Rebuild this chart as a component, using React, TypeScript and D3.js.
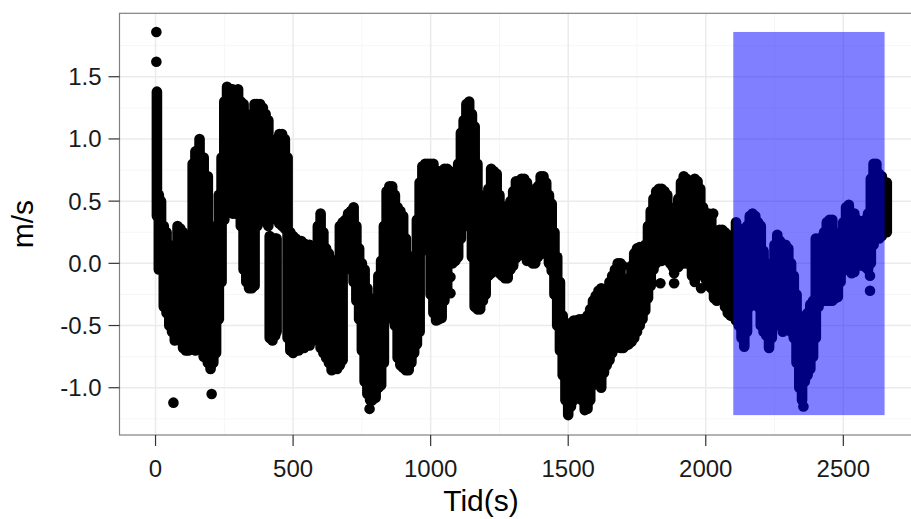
import React from "react";
import * as d3 from "d3";

// Velocity readings (m/s) vs time (s). Each entry: [time, highest value, lowest value] of the dense dot cloud in that slice.
const cloud: [number, number, number][] = [
  [5, 1.38, 0.38], [12, 0.55, -0.05], [20, 0.5, 0.05], [30, 0.3, -0.35], [40, 0.25, -0.4],
  [50, 0.15, -0.5], [60, 0.08, -0.55], [70, 0.05, -0.62], [80, 0.3, -0.6], [90, 0.28, -0.62],
  [100, 0.25, -0.68], [110, 0.2, -0.7], [120, 0.12, -0.7], [135, 0.8, 0.12], [135, 0.02, -0.68], [145, 0.9, -0.7],
  [160, 1.0, -0.55], [175, 0.85, -0.75], [190, 0.7, -0.8], [200, 0.0, -0.85], [210, 0.05, -0.8],
  [220, 0.3, -0.72], [230, 0.55, -0.45], [240, 0.85, -0.15], [250, 1.3, 0.35], [260, 1.42, 0.42],
  [270, 1.4, 0.45], [280, 1.4, 0.4], [290, 1.35, 0.4], [300, 1.4, 0.45], [310, 1.3, 0.3],
  [320, 1.28, -0.05], [330, 1.2, -0.15], [340, 1.12, 0.75], [340, 0.62, -0.2], [350, 1.1, -0.2], [360, 1.28, -0.18],
  [370, 1.28, 0.3], [380, 1.28, 0.45], [390, 1.25, 0.45], [400, 1.2, 0.33], [410, 1.15, 0.3],
  [415, 0.22, -0.6], [425, 0.2, -0.62], [435, 0.2, -0.58], [440, 1.0, 0.35], [440, 0.2, -0.55],
  [450, 1.04, 0.32], [460, 1.04, 0.3], [470, 1.0, 0.28], [480, 0.85, -0.6], [490, 0.25, -0.7],
  [500, 0.22, -0.72], [510, 0.2, -0.7], [520, 0.12, -0.7], [530, 0.18, -0.68], [540, 0.16, -0.68],
  [550, 0.15, -0.66], [560, 0.15, -0.66], [570, 0.12, -0.6], [580, 0.1, -0.56], [590, 0.3, -0.62],
  [600, 0.4, -0.68], [610, 0.25, -0.72], [620, 0.12, -0.76], [630, 0.08, -0.8], [640, 0.03, -0.86],
  [650, 0.0, -0.85], [660, 0.0, -0.85], [670, 0.3, -0.82], [680, 0.33, -0.78], [690, 0.35, -0.02],
  [700, 0.4, -0.02], [710, 0.42, -0.05], [720, 0.45, -0.15], [730, 0.3, -0.3], [740, 0.12, -0.45],
  [750, 0.0, -0.7], [760, -0.05, -0.95], [770, -0.2, -1.05], [780, -0.28, -1.1], [790, -0.3, -1.0],
  [800, -0.3, -1.08], [810, -0.1, -1.0], [820, 0.02, -0.98], [830, 0.3, -0.8], [840, 0.58, -0.45],
  [850, 0.62, -0.1], [860, 0.62, -0.03], [870, 0.55, -0.5], [880, 0.45, -0.76], [890, 0.42, -0.82],
  [900, 0.38, -0.84], [910, 0.2, -0.86], [920, 0.06, -0.86], [930, 0.02, -0.8], [940, 0.0, -0.72],
  [950, 0.35, -0.65], [960, 0.65, -0.55], [970, 0.78, 0.1], [980, 0.8, 0.13], [990, 0.8, 0.13],
  [1000, 0.8, -0.25], [1010, 0.8, -0.4], [1020, 0.74, -0.46], [1030, 0.74, -0.45], [1040, 0.72, -0.44],
  [1050, 0.76, 0.34], [1050, 0.24, -0.3], [1060, 0.76, 0.36], [1060, 0.22, -0.22], [1070, 0.74, 0.0], [1080, 0.7, 0.0], [1090, 0.68, 0.02],
  [1100, 0.8, 0.05], [1110, 1.05, 0.2], [1120, 1.15, 0.35], [1130, 1.28, 0.3], [1140, 1.3, 0.3],
  [1150, 1.2, 0.05], [1160, 1.1, -0.35], [1170, 0.8, -0.37], [1180, 0.55, -0.37], [1190, 0.4, -0.3],
  [1200, 0.3, -0.25], [1210, 0.6, -0.1], [1220, 0.76, -0.08], [1230, 0.74, -0.05], [1240, 0.72, 0.0],
  [1250, 0.55, -0.08], [1260, 0.46, -0.1], [1270, 0.42, -0.12], [1280, 0.4, -0.12], [1290, 0.5, -0.05],
  [1300, 0.58, -0.02], [1310, 0.66, 0.04], [1320, 0.66, 0.06], [1330, 0.68, 0.1], [1340, 0.68, 0.08],
  [1350, 0.65, 0.02], [1360, 0.6, 0.02], [1370, 0.56, 0.0], [1380, 0.55, 0.0], [1390, 0.62, 0.05],
  [1400, 0.7, 0.08], [1410, 0.7, 0.08], [1420, 0.65, 0.08], [1430, 0.55, 0.0], [1440, 0.48, -0.06],
  [1450, 0.25, -0.25], [1460, 0.05, -0.5], [1470, -0.15, -0.7], [1480, -0.42, -0.9], [1490, -0.48, -1.1],
  [1500, -0.5, -1.22], [1510, -0.48, -1.15], [1520, -0.46, -1.1], [1530, -0.46, -1.05], [1540, -0.45, -1.03],
  [1550, -0.45, -1.1], [1560, -0.45, -1.18], [1570, -0.42, -1.17], [1580, -0.37, -1.1], [1590, -0.3, -0.98],
  [1600, -0.26, -0.95], [1610, -0.22, -0.95], [1620, -0.2, -1.0], [1630, -0.21, -0.88], [1640, -0.22, -0.82],
  [1650, -0.15, -0.78], [1660, -0.1, -0.72], [1670, -0.05, -0.68], [1680, 0.0, -0.65], [1690, 0.0, -0.68],
  [1700, -0.17, -0.68], [1710, -0.14, -0.66], [1720, -0.12, -0.65], [1730, -0.02, -0.63], [1740, 0.08, -0.6],
  [1750, 0.12, -0.55], [1760, 0.13, -0.5], [1770, 0.13, -0.45], [1780, 0.15, -0.38], [1790, 0.3, -0.28],
  [1800, 0.42, -0.18], [1810, 0.52, -0.05], [1820, 0.58, 0.0], [1830, 0.6, 0.02], [1840, 0.6, 0.02],
  [1850, 0.58, 0.05], [1860, 0.55, 0.05], [1870, 0.45, 0.0], [1880, 0.35, -0.03], [1890, 0.45, -0.03],
  [1900, 0.52, -0.03], [1910, 0.65, 0.0], [1920, 0.7, 0.0], [1930, 0.68, 0.0], [1940, 0.62, 0.0],
  [1950, 0.66, -0.1], [1960, 0.68, -0.15], [1970, 0.66, -0.05], [1980, 0.6, 0.0], [1990, 0.45, -0.1],
  [2000, 0.35, -0.13], [2010, 0.4, -0.18], [2020, 0.38, -0.2], [2030, 0.25, -0.28], [2040, 0.26, -0.3],
  [2050, 0.27, -0.28], [2060, 0.27, -0.27], [2070, 0.25, -0.35], [2080, 0.23, -0.4], [2090, 0.22, -0.42],
  [2100, 0.15, -0.43], [2110, 0.33, -0.46], [2120, 0.28, -0.5], [2130, 0.15, -0.6], [2140, 0.1, -0.67],
  [2150, 0.3, -0.55], [2160, 0.38, -0.35], [2170, 0.4, -0.15], [2180, 0.38, -0.12], [2190, 0.33, -0.35],
  [2200, 0.3, -0.5], [2210, 0.1, -0.55], [2220, 0.0, -0.58], [2230, -0.04, -0.68], [2240, -0.06, -0.6],
  [2250, 0.15, -0.5], [2260, 0.23, -0.46], [2270, 0.18, -0.5], [2280, 0.15, -0.55], [2290, 0.15, -0.52],
  [2300, 0.12, -0.5], [2310, 0.0, -0.55], [2320, -0.1, -0.6], [2330, -0.25, -0.8], [2340, -0.42, -1.0],
  [2350, -0.55, -1.1], [2360, -0.55, -0.95], [2370, -0.4, -0.9], [2380, -0.33, -0.85], [2390, -0.3, -0.75],
  [2400, 0.2, -0.6], [2410, 0.2, -0.35], [2420, 0.2, -0.3], [2430, 0.25, -0.3], [2440, 0.33, -0.3],
  [2450, 0.35, -0.3], [2460, 0.35, -0.3], [2470, 0.25, -0.28], [2480, 0.2, -0.27], [2490, 0.25, -0.15],
  [2500, 0.33, -0.06], [2510, 0.45, -0.05], [2520, 0.47, -0.05], [2530, 0.4, -0.08], [2540, 0.4, -0.07],
  [2550, 0.35, -0.02], [2560, 0.33, 0.0], [2570, 0.34, -0.02], [2580, 0.35, -0.03], [2590, 0.4, -0.05],
  [2600, 0.68, 0.0], [2610, 0.8, 0.15], [2620, 0.8, 0.2], [2630, 0.72, 0.2], [2640, 0.7, 0.22],
  [2658, 0.65, 0.25],
];

// Isolated points: [time, value]
const singles: [number, number][] = [
  [3, 1.86], [3, 1.62], [65, -1.12], [204, -1.05], [778, -1.17], [788, -1.1],
  [1072, -0.11], [1072, -0.24], [1698, -0.02], [1835, -0.16], [1885, -0.08], [1885, -0.16],
  [1983, -0.2], [2027, 0.4], [2355, -1.15], [2597, -0.1], [2597, -0.22],
];

const highlight = { from: 2100, to: 2650 };
const xTicks = [0, 500, 1000, 1500, 2000, 2500];
const yTicks = [-1.0, -0.5, 0.0, 0.5, 1.0, 1.5];
const xMinor = [250, 750, 1250, 1750, 2250, 2750];
const yMinor = [-1.25, -0.75, -0.25, 0.25, 0.75, 1.25, 1.75];
const xTitle = "Tid(s)";
const yTitle = "m/s";

const W = 911;
const H = 519;
const R = 5.3;

export default function App() {
  const x = d3.scaleLinear().domain([-131, 2782]).range([119.5, 920.9]);
  const y = d3.scaleLinear().domain([-1.38, 2.01]).range([435, 13.3]);
  const [x0, x1] = x.range();
  const [yb, yt] = y.range();

  const allVals = [
    ...cloud.flatMap((c) => [c[1], c[2]]),
    ...singles.map((s) => s[1]),
  ];
  const vMin = d3.min(allVals) as number;
  const vMax = d3.max(allVals) as number;

  const font = "'Liberation Sans', Arial, Helvetica, sans-serif";
  const fmt = (v: number) => v.toFixed(1);

  return (
    <svg
      width={W}
      height={H}
      style={{ position: "absolute", left: 0, top: 0, background: "#fff" }}
    >
      <defs>
        <clipPath id="panel">
          <rect x={x0} y={yt} width={x1 - x0} height={yb - yt} />
        </clipPath>
      </defs>
      <rect x={x0} y={yt} width={x1 - x0} height={yb - yt} fill="#fff" />
      <g clipPath="url(#panel)">
        {xMinor.map((t) => (
          <line key={"xm" + t} x1={x(t)} x2={x(t)} y1={yt} y2={yb} stroke="#f6f6f6" strokeWidth={1} />
        ))}
        {yMinor.map((v) => (
          <line key={"ym" + v} x1={x0} x2={x1} y1={y(v)} y2={y(v)} stroke="#f6f6f6" strokeWidth={1} />
        ))}
        {xTicks.map((t) => (
          <line key={"xg" + t} x1={x(t)} x2={x(t)} y1={yt} y2={yb} stroke="#ebebeb" strokeWidth={1.5} />
        ))}
        {yTicks.map((v) => (
          <line key={"yg" + v} x1={x0} x2={x1} y1={y(v)} y2={y(v)} stroke="#ebebeb" strokeWidth={1.5} />
        ))}
        <g fill="#000" stroke="#000">
          {cloud.map((c, i) => (
            <line
              key={"c" + i}
              x1={x(c[0])}
              x2={x(c[0])}
              y1={y(c[1])}
              y2={y(c[2])}
              strokeWidth={2 * R}
              strokeLinecap="round"
            />
          ))}
          {singles.map((s, i) => (
            <circle key={"s" + i} cx={x(s[0])} cy={y(s[1])} r={R} stroke="none" />
          ))}
        </g>
        <rect
          x={x(highlight.from)}
          y={y(vMax)}
          width={x(highlight.to) - x(highlight.from)}
          height={y(vMin) - y(vMax)}
          fill="#0000ff"
          fillOpacity={0.5}
        />
      </g>
      <rect x={x0} y={yt} width={x1 - x0} height={yb - yt} fill="none" stroke="#808080" strokeWidth={1.2} />
      {yTicks.map((v) => (
        <g key={"yt" + v}>
          <line x1={x0 - 11} x2={x0} y1={y(v)} y2={y(v)} stroke="#333" strokeWidth={1.2} />
          <text
            x={x0 - 18}
            y={y(v)}
            dy="0.35em"
            textAnchor="end"
            fontFamily={font}
            fontSize={24}
            fill="#1a1a1a"
          >
            {fmt(v)}
          </text>
        </g>
      ))}
      {xTicks.map((t) => (
        <g key={"xt" + t}>
          <line x1={x(t)} x2={x(t)} y1={yb} y2={yb + 11} stroke="#333" strokeWidth={1.2} />
          <text
            x={x(t)}
            y={476.5}
            textAnchor="middle"
            fontFamily={font}
            fontSize={24}
            fill="#1a1a1a"
          >
            {t}
          </text>
        </g>
      ))}
      <text x={481} y={511} textAnchor="middle" fontFamily={font} fontSize={30} fill="#000">
        {xTitle}
      </text>
      <text
        transform={`translate(33, ${(yt + yb) / 2}) rotate(-90)`}
        textAnchor="middle"
        fontFamily={font}
        fontSize={30}
        fill="#000"
      >
        {yTitle}
      </text>
    </svg>
  );
}
